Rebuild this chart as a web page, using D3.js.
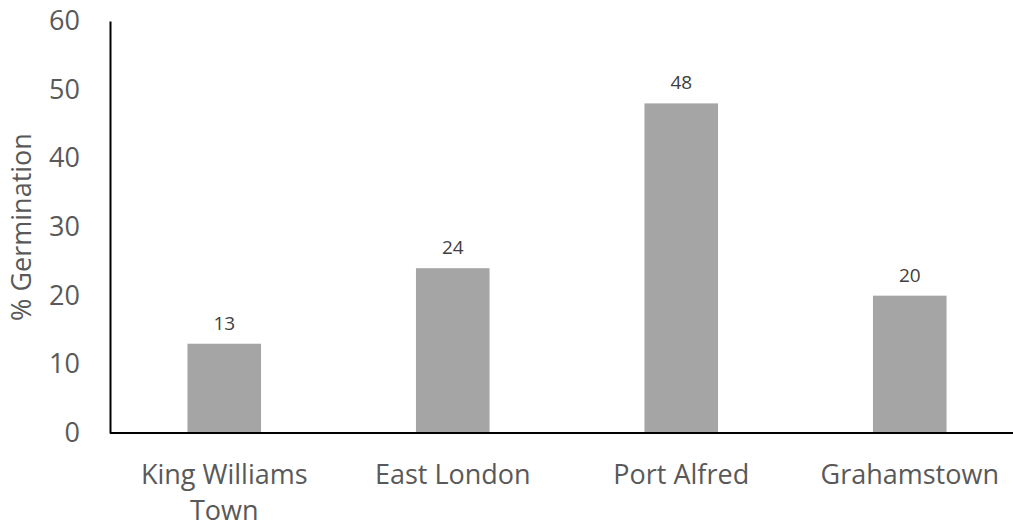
<!DOCTYPE html>
<html>
<head>
<meta charset="utf-8">
<script src="https://cdn.jsdelivr.net/npm/d3@7"></script>
<style>
  html, body { margin: 0; padding: 0; background: #fff; }
  svg { display: block; }
  svg text { font-family: "Open Sans", Lato, sans-serif; }
</style>
</head>
<body>
<svg id="chart" width="1013" height="528"></svg>
<script>
// Germination by collection site
const sites = [["King Williams", "Town"], ["East London"], ["Port Alfred"], ["Grahamstown"]];
const germination = [13, 24, 48, 20];
const yTicks = [0, 10, 20, 30, 40, 50, 60];

const svg = d3.select("#chart");
const W = 1013, H = 528;

const x = d3.scaleBand()
  .domain(d3.range(sites.length))
  .range([110, 1024])
  .paddingInner(0.678)
  .paddingOuter(0.339);

const y = d3.scaleLinear().domain([0, 60]).range([433, 21]);

// bars
svg.append("g").selectAll("rect")
  .data(germination)
  .join("rect")
  .attr("x", (d, i) => x(i))
  .attr("width", x.bandwidth())
  .attr("y", d => y(d))
  .attr("height", d => y(0) - y(d))
  .attr("fill", "#a5a5a5");

// value labels
svg.append("g").selectAll("text")
  .data(germination)
  .join("text")
  .attr("x", (d, i) => x(i) + x.bandwidth() / 2)
  .attr("y", d => y(d) - 14)
  .attr("text-anchor", "middle")
  .attr("font-size", 19)
  .attr("fill", "#404040")
  .text(d => d);

// y axis
const yAxis = svg.append("g")
  .attr("transform", "translate(110,0)")
  .call(d3.axisLeft(y).tickValues(yTicks).tickSize(0).tickPadding(30));
yAxis.attr("font-family", null).attr("font-size", null);
yAxis.select(".domain").attr("stroke", "#000").attr("stroke-width", 2);
yAxis.selectAll("text")
  .attr("font-size", 27)
  .attr("fill", "#595959");

// x axis line
svg.append("line")
  .attr("x1", 110).attr("x2", W)
  .attr("y1", y(0)).attr("y2", y(0))
  .attr("stroke", "#000").attr("stroke-width", 2);

// category labels
const cat = svg.append("g").selectAll("text")
  .data(sites)
  .join("text")
  .attr("x", (d, i) => x(i) + x.bandwidth() / 2)
  .attr("y", 484)
  .attr("text-anchor", "middle")
  .attr("font-size", 27)
  .attr("fill", "#595959");
cat.selectAll("tspan")
  .data(d => d)
  .join("tspan")
  .attr("x", function () { return d3.select(this.parentNode).attr("x"); })
  .attr("dy", (d, j) => j === 0 ? 0 : 36)
  .text(d => d);

// y axis title
svg.append("text")
  .attr("transform", `translate(31,227) rotate(-90)`)
  .attr("text-anchor", "middle")
  .attr("font-size", 27)
  .attr("fill", "#595959")
  .text("% Germination");
</script>
</body>
</html>
